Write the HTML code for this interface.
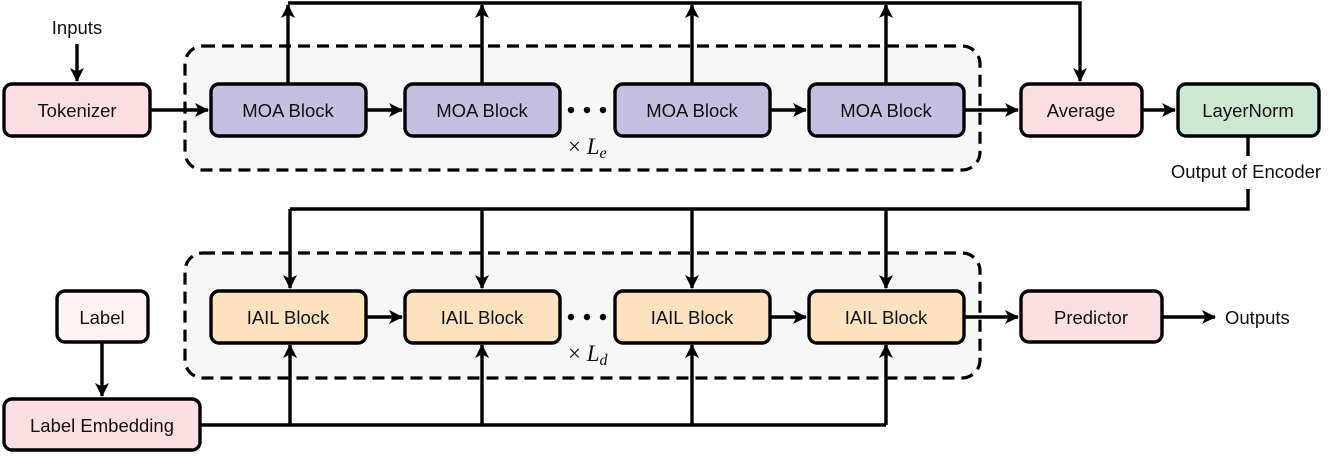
<!DOCTYPE html>
<html><head><meta charset="utf-8"><style>
html,body{margin:0;padding:0;background:#fff;}
svg text{font-family:"Liberation Sans","DejaVu Sans",sans-serif;font-size:18.5px;fill:#111;}
</style></head><body>
<svg width="1329" height="455" viewBox="0 0 1329 455" xmlns="http://www.w3.org/2000/svg">
<defs>
<marker id="a" viewBox="0 0 14 14" refX="13" refY="7" markerWidth="14" markerHeight="14" markerUnits="userSpaceOnUse" orient="auto">
<path d="M0,0 L14,7 L0,14 L3.5,7 Z" fill="#000"/></marker>
</defs>
<rect x="185" y="46" width="795" height="124" rx="18" fill="#f7f7f7" stroke="#000" stroke-width="3.2" stroke-dasharray="12,7"/>
<rect x="185" y="253" width="795" height="125" rx="18" fill="#f7f7f7" stroke="#000" stroke-width="3.2" stroke-dasharray="12,7"/>
<g stroke="#000" stroke-width="3.4" fill="none">
<line x1="77" y1="44" x2="77" y2="81" marker-end="url(#a)"/>
<line x1="150" y1="110" x2="208" y2="110" marker-end="url(#a)"/>
<line x1="366" y1="110" x2="402" y2="110" marker-end="url(#a)"/>
<line x1="770" y1="110" x2="806" y2="110" marker-end="url(#a)"/>
<line x1="964" y1="110" x2="1018" y2="110" marker-end="url(#a)"/>
<line x1="1142" y1="110" x2="1175" y2="110" marker-end="url(#a)"/>
<line x1="288" y1="83" x2="288" y2="5" marker-end="url(#a)"/>
<line x1="482" y1="83" x2="482" y2="5" marker-end="url(#a)"/>
<line x1="692" y1="83" x2="692" y2="5" marker-end="url(#a)"/>
<line x1="886" y1="83" x2="886" y2="5" marker-end="url(#a)"/>
<polyline points="288,3 1080,3 1080,81" marker-end="url(#a)"/>
<line x1="1248" y1="136" x2="1248" y2="156"/>
<polyline points="1248,189 1248,209 290,209"/>
<line x1="290" y1="209" x2="290" y2="288" marker-end="url(#a)"/>
<line x1="482" y1="209" x2="482" y2="288" marker-end="url(#a)"/>
<line x1="692" y1="209" x2="692" y2="288" marker-end="url(#a)"/>
<line x1="886" y1="209" x2="886" y2="288" marker-end="url(#a)"/>
<line x1="366" y1="317" x2="402" y2="317" marker-end="url(#a)"/>
<line x1="770" y1="317" x2="806" y2="317" marker-end="url(#a)"/>
<line x1="964" y1="317" x2="1018" y2="317" marker-end="url(#a)"/>
<line x1="1163" y1="317" x2="1215" y2="317" marker-end="url(#a)"/>
<line x1="102" y1="342" x2="102" y2="396" marker-end="url(#a)"/>
<line x1="200" y1="425" x2="886" y2="425"/>
<line x1="290" y1="425" x2="290" y2="345" marker-end="url(#a)"/>
<line x1="482" y1="425" x2="482" y2="345" marker-end="url(#a)"/>
<line x1="692" y1="425" x2="692" y2="345" marker-end="url(#a)"/>
<line x1="886" y1="425" x2="886" y2="345" marker-end="url(#a)"/>
</g>
<g stroke="#000" stroke-width="3.4">
<rect x="4" y="84" width="146" height="52" rx="8" fill="#fbdfe2"/>
<rect x="211" y="84" width="155" height="52" rx="8" fill="#c5bfe0"/>
<rect x="405" y="84" width="155" height="52" rx="8" fill="#c5bfe0"/>
<rect x="615" y="84" width="155" height="52" rx="8" fill="#c5bfe0"/>
<rect x="809" y="84" width="155" height="52" rx="8" fill="#c5bfe0"/>
<rect x="1021" y="84" width="121" height="52" rx="8" fill="#fbdfe2"/>
<rect x="1178" y="84" width="141" height="52" rx="8" fill="#cde8d2"/>
<rect x="211" y="291" width="155" height="52" rx="8" fill="#fde2c0"/>
<rect x="405" y="291" width="155" height="52" rx="8" fill="#fde2c0"/>
<rect x="615" y="291" width="155" height="52" rx="8" fill="#fde2c0"/>
<rect x="809" y="291" width="155" height="52" rx="8" fill="#fde2c0"/>
<rect x="1021" y="291" width="141" height="51" rx="8" fill="#fbdfe2"/>
<rect x="57" y="291" width="91" height="51" rx="8" fill="#fdf3f3"/>
<rect x="4" y="399" width="196" height="51" rx="8" fill="#fbdfe2"/>
</g>
<g fill="#000"><circle cx="571" cy="110" r="3.2"/><circle cx="587" cy="110" r="3.2"/><circle cx="603" cy="110" r="3.2"/>
<circle cx="571" cy="317" r="3.2"/><circle cx="587" cy="317" r="3.2"/><circle cx="603" cy="317" r="3.2"/></g>
<g text-anchor="middle">
<text x="77" y="34">Inputs</text>
<text x="77" y="117">Tokenizer</text>
<text x="288" y="117">MOA Block</text>
<text x="482" y="117">MOA Block</text>
<text x="692" y="117">MOA Block</text>
<text x="886" y="117">MOA Block</text>
<text x="1081" y="117">Average</text>
<text x="1248" y="117">LayerNorm</text>
<text x="1246" y="178">Output of Encoder</text>
<text x="288" y="324">IAIL Block</text>
<text x="482" y="324">IAIL Block</text>
<text x="692" y="324">IAIL Block</text>
<text x="886" y="324">IAIL Block</text>
<text x="1091" y="324">Predictor</text>
<text x="102" y="324">Label</text>
<text x="102" y="432">Label Embedding</text>
</g>
<text x="1225" y="324">Outputs</text>
<text x="568" y="154" style="font-family:'Liberation Serif',serif;font-size:23px">× <tspan font-style="italic">L</tspan><tspan font-style="italic" font-size="16" dy="4">e</tspan></text>
<text x="568" y="361" style="font-family:'Liberation Serif',serif;font-size:23px">× <tspan font-style="italic">L</tspan><tspan font-style="italic" font-size="16" dy="4">d</tspan></text>
</svg>
</body></html>
